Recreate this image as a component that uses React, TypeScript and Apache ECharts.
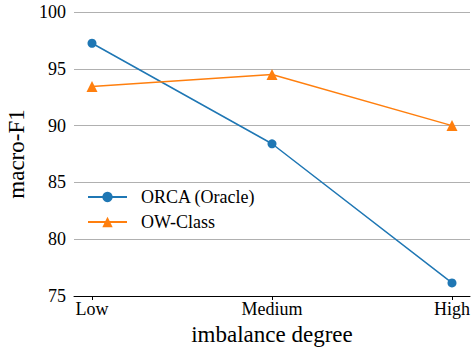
import React, { useEffect, useRef } from "react";
import * as echarts from "echarts";

const categories = ["Low", "Medium", "High"];
const orcaValues = [97.25, 88.4, 76.15];
const owClassValues = [93.45, 94.5, 90.0];
const yTicks = [75, 80, 85, 90, 95, 100];

const FONT = "Liberation Serif";

export default function App() {
  const ref = useRef<HTMLDivElement>(null);
  useEffect(() => {
    if (!ref.current) return;
    const chart = echarts.init(ref.current, null, { renderer: "svg" });
    chart.setOption({
      animation: false,
      textStyle: { fontFamily: FONT },
      grid: {
        left: 74,
        right: 5,
        top: 12,
        bottom: 51,
        containLabel: false,
        outerBoundsMode: "none",
      },
      legend: {
        orient: "vertical",
        left: 87,
        top: 188,
        padding: 0,
        itemWidth: 39,
        itemHeight: 13,
        itemGap: 7,
        formatter: "{t|{name}}",
        textStyle: {
          fontFamily: FONT,
          fontSize: 18,
          color: "#000",
          rich: {
            t: { fontFamily: FONT, fontSize: 18, color: "#000", padding: [0, 0, 0, 9] },
          },
        },
        data: ["ORCA (Oracle)", "OW-Class"],
      },
      xAxis: {
        type: "value",
        min: -0.1,
        max: 2.1,
        name: "imbalance degree",
        nameLocation: "middle",
        nameGap: 25,
        nameTextStyle: { fontFamily: FONT, fontSize: 23, color: "#000" },
        axisLine: { show: true, lineStyle: { color: "#000", width: 1 } },
        axisTick: { show: true, customValues: [0, 1, 2], length: 4, lineStyle: { color: "#000" } },
        axisLabel: {
          customValues: [0, 1, 2],
          formatter: (v: number) => categories[Math.round(v)] ?? "",
          fontFamily: FONT,
          fontSize: 18,
          color: "#000",
          margin: 4,
        },
        splitLine: { show: false },
      },
      yAxis: {
        type: "value",
        min: yTicks[0],
        max: yTicks[yTicks.length - 1],
        interval: 5,
        name: "macro-F1",
        nameLocation: "middle",
        nameGap: 37,
        nameTextStyle: { fontFamily: FONT, fontSize: 23, color: "#000" },
        axisLine: { show: false },
        axisTick: { show: false },
        axisLabel: { fontFamily: FONT, fontSize: 18, color: "#000", margin: 8 },
        splitLine: { show: true, lineStyle: { color: "#b0b0b0", width: 1 } },
      },
      series: [
        {
          name: "ORCA (Oracle)",
          type: "line",
          data: orcaValues.map((v, i) => [i, v]),
          symbol: "circle",
          symbolSize: 9,
          itemStyle: { color: "#1f77b4" },
          lineStyle: { color: "#1f77b4", width: 1.5 },
        },
        {
          name: "OW-Class",
          type: "line",
          data: owClassValues.map((v, i) => [i, v]),
          symbol: "triangle",
          symbolSize: 11,
          itemStyle: { color: "#ff7f0e" },
          lineStyle: { color: "#ff7f0e", width: 1.5 },
        },
      ],
    });
    return () => chart.dispose();
  }, []);
  return (
    <div
      ref={ref}
      style={{ position: "absolute", left: 0, top: 0, width: 475, height: 347 }}
    />
  );
}
